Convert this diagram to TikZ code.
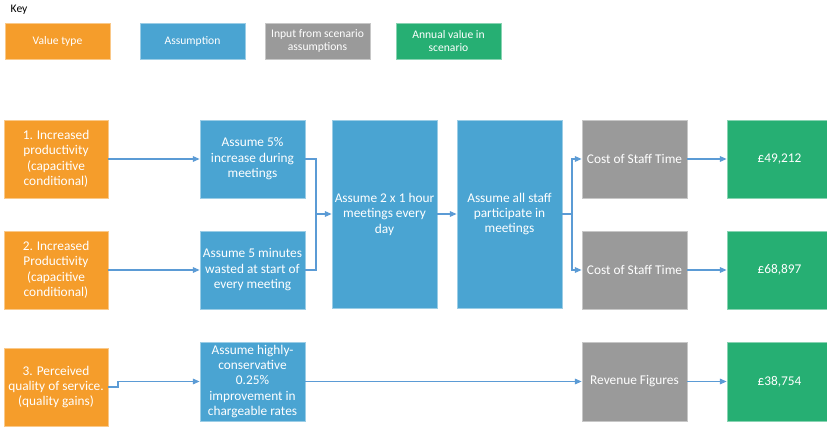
\documentclass[tikz,border=0pt]{standalone}
\usepackage{fontspec}
\setmainfont{Carlito}
\usetikzlibrary{arrows.meta}
\definecolor{cOrange}{HTML}{F59D2B}
\definecolor{cBlue}{HTML}{4AA4D2}
\definecolor{cGray}{HTML}{9A9A9A}
\definecolor{cGreen}{HTML}{26AF73}
\definecolor{cLine}{HTML}{5B9BD5}
\tikzset{
  boxbase/.style={rectangle, inner sep=1pt, align=center, text=white,
     font=\fontsize{10}{11.6}\selectfont, line width=0.6pt},
  keyfont/.style={font=\fontsize{8.7}{10}\selectfont},
  vbox/.style={boxbase, fill=cOrange, draw=cOrange!55!white},
  abox/.style={boxbase, fill=cBlue, draw=cBlue!55!white},
  ibox/.style={boxbase, fill=cGray, draw=cGray!55!white},
  gbox/.style={boxbase, fill=cGreen, draw=cGreen!55!white},
  sz/.style 2 args={minimum width=#1*0.75pt, minimum height=#2*0.75pt},
  conn/.style={draw=cLine, line width=0.8pt, -{Triangle[length=5pt,width=4.2pt]}},
  plain/.style={draw=cLine, line width=0.8pt},
}
\begin{document}
\begin{tikzpicture}[x=0.75pt,y=-0.75pt]
\useasboundingbox (0,0) rectangle (827,427);
% key
\node[anchor=west, keyfont] (key) at (6,10) {Key};
\node[vbox, keyfont, sz={105}{36}] (kv) at (57.5,41) {Value type};
\node[abox, keyfont, sz={105}{36}] (ka) at (192.5,41) {Assumption};
\node[ibox, keyfont, sz={105}{36}] (ki) at (317.5,41) {Input from scenario\\assumptions};
\node[gbox, keyfont, sz={105}{36}] (kg) at (448.5,41) {Annual value in\\scenario};
% row 1
\node[vbox, sz={104}{78}] (o1) at (56,159) {1. Increased\\productivity\\(capacitive\\conditional)};
\node[abox, sz={105}{78}] (b1) at (252.5,159) {Assume 5\%\\increase during\\meetings};
\node[abox, sz={105}{188}] (m1) at (384.5,214) {Assume 2 x 1 hour\\meetings every\\day};
\node[abox, sz={105}{188}] (m2) at (509.5,214) {Assume all staff\\participate in\\meetings};
\node[ibox, sz={105}{78}] (g1) at (634.5,159) {Cost of Staff Time};
\node[gbox, sz={105}{78}] (v1) at (779.5,159) {£49,212};
% row 2
\node[vbox, sz={104}{78}] (o2) at (56,270) {2. Increased\\Productivity\\(capacitive\\conditional)};
\node[abox, sz={105}{78}] (b2) at (252.5,270) {Assume 5 minutes\\wasted at start of\\every meeting};
\node[ibox, sz={105}{78}] (g2) at (634.5,270) {Cost of Staff Time};
\node[gbox, sz={105}{78}] (v2) at (779.5,270) {£68,897};
% row 3
\node[vbox, sz={104}{78}] (o3) at (56,387) {3. Perceived\\quality of service.\\(quality gains)};
\node[abox, sz={105}{79}] (b3) at (252.5,381.5) {Assume highly-\\conservative\\0.25\%\\improvement in\\chargeable rates};
\node[ibox, sz={105}{79}] (g3) at (634.5,381.5) {Revenue Figures};
\node[gbox, sz={105}{79}] (v3) at (779.5,381.5) {£38,754};
% junctions
\coordinate (j1) at (316,214);
\coordinate (j2) at (572,214);
\coordinate (j3) at (118,381.5);
% connectors
\draw[conn] (o1) -- (b1);
\draw[conn] (o2) -- (b2);
\draw[plain] (b1.east) -| (j1);
\draw[conn] (b2.east) -| (j1) -- (m1.west);
\draw[conn] (m1) -- (m2);
\draw[plain] (m2.east) -- (j2);
\draw[conn] (j2) |- (g1.west);
\draw[conn] (j2) |- (g2.west);
\draw[conn] (g1) -- (v1);
\draw[conn] (g2) -- (v2);
\draw[conn] (o3.east) -| (j3) -- (b3.west);
\draw[conn] (b3) -- (g3);
\draw[conn] (g3) -- (v3);
\end{tikzpicture}
\end{document}
